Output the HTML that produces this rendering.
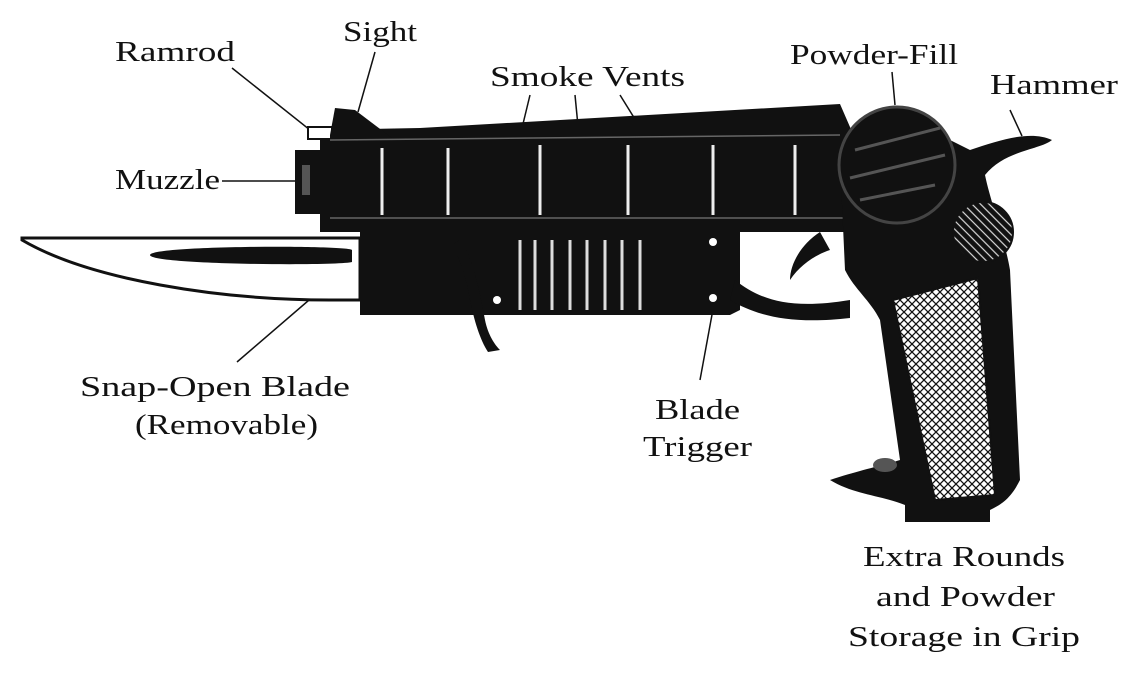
<!DOCTYPE html>
<html><head><meta charset="utf-8"><style>
html,body{margin:0;padding:0;background:#fff}
svg{display:block}
text{font-family:"Liberation Serif",serif;font-size:28px;fill:#111}
</style></head><body>
<svg width="1132" height="674" viewBox="0 0 1132 674" xmlns="http://www.w3.org/2000/svg">
<defs>
<pattern id="hatch" width="8" height="8" patternUnits="userSpaceOnUse">
<rect width="8" height="8" fill="#fff"/>
<path d="M0,0 L8,8 M8,0 L0,8" stroke="#111" stroke-width="1.3"/>
</pattern>
<pattern id="hatch2" width="6" height="6" patternUnits="userSpaceOnUse" patternTransform="rotate(45)">
<rect width="6" height="6" fill="#111"/>
<path d="M0,3 L6,3" stroke="#ddd" stroke-width="1.2"/>
</pattern>
</defs>

<!-- labels -->
<text x="115" y="61" textLength="120" lengthAdjust="spacingAndGlyphs">Ramrod</text>
<text x="343" y="41" textLength="74" lengthAdjust="spacingAndGlyphs">Sight</text>
<text x="490" y="86" textLength="195" lengthAdjust="spacingAndGlyphs">Smoke Vents</text>
<text x="790" y="64" textLength="168" lengthAdjust="spacingAndGlyphs">Powder-Fill</text>
<text x="990" y="94" textLength="128" lengthAdjust="spacingAndGlyphs">Hammer</text>
<text x="115" y="189" textLength="105" lengthAdjust="spacingAndGlyphs">Muzzle</text>
<text x="80" y="396" textLength="270" lengthAdjust="spacingAndGlyphs">Snap-Open Blade</text>
<text x="135" y="434" textLength="183" lengthAdjust="spacingAndGlyphs">(Removable)</text>
<text x="655" y="419" textLength="85" lengthAdjust="spacingAndGlyphs">Blade</text>
<text x="643" y="456" textLength="109" lengthAdjust="spacingAndGlyphs">Trigger</text>
<text x="863" y="566" textLength="202" lengthAdjust="spacingAndGlyphs">Extra Rounds</text>
<text x="876" y="606" textLength="179" lengthAdjust="spacingAndGlyphs">and Powder</text>
<text x="848" y="646" textLength="232" lengthAdjust="spacingAndGlyphs">Storage in Grip</text>

<!-- leader lines -->
<g stroke="#111" stroke-width="1.5" fill="none">
<line x1="232" y1="68" x2="310" y2="130"/>
<line x1="375" y1="52" x2="358" y2="112"/>
<line x1="222" y1="181" x2="296" y2="181"/>
<line x1="530" y1="95" x2="522" y2="128"/>
<line x1="575" y1="95" x2="578" y2="126"/>
<line x1="620" y1="95" x2="638" y2="124"/>
<line x1="892" y1="72" x2="895" y2="105"/>
<line x1="1010" y1="110" x2="1022" y2="136"/>
<line x1="237" y1="362" x2="330" y2="282"/>
<line x1="700" y1="380" x2="718" y2="282"/>
</g>

<!-- blade -->
<path d="M22,238 L360,238 L360,300 L330,300 C220,300 90,280 22,240 Z" fill="#fff" stroke="#111" stroke-width="3"/>
<path d="M150,255 C150,245 350,245 352,250 L352,262 C340,266 150,265 150,255 Z" fill="#111"/>

<!-- lower body -->
<path d="M360,232 L740,232 L740,310 L730,315 L360,315 Z" fill="#111"/>
<g stroke="#ddd" stroke-width="3">
<line x1="520" y1="240" x2="520" y2="310"/><line x1="535" y1="240" x2="535" y2="310"/>
<line x1="552" y1="240" x2="552" y2="310"/><line x1="570" y1="240" x2="570" y2="310"/>
<line x1="587" y1="240" x2="587" y2="310"/><line x1="605" y1="240" x2="605" y2="310"/>
<line x1="622" y1="240" x2="622" y2="310"/><line x1="640" y1="240" x2="640" y2="310"/>
</g>
<circle cx="497" cy="300" r="4" fill="#fff"/><circle cx="713" cy="242" r="4" fill="#fff"/><circle cx="713" cy="298" r="4" fill="#fff"/>
<path d="M460,240 C470,250 480,290 485,320 C488,335 495,345 500,350 L488,352 C480,340 474,320 470,300 C466,275 458,255 452,245 Z" fill="#111"/>

<!-- barrel -->
<path d="M320,130 L420,128 L840,104 L860,150 L860,232 L320,232 Z" fill="#111"/>
<rect x="295" y="150" width="28" height="64" fill="#111"/>
<rect x="302" y="165" width="8" height="30" fill="#555"/>
<rect x="308" y="127" width="24" height="12" fill="#fff" stroke="#111" stroke-width="2"/>
<path d="M330,135 L335,108 L355,110 L392,138 L392,150 L330,150 Z" fill="#111"/>
<g stroke="#eee" stroke-width="3">
<line x1="382" y1="148" x2="382" y2="215"/><line x1="448" y1="148" x2="448" y2="215"/>
<line x1="540" y1="145" x2="540" y2="215"/><line x1="628" y1="145" x2="628" y2="215"/>
<line x1="713" y1="145" x2="713" y2="215"/><line x1="795" y1="145" x2="795" y2="215"/>
</g>
<line x1="330" y1="140" x2="840" y2="135" stroke="#666" stroke-width="1.5"/>
<line x1="330" y1="218" x2="850" y2="218" stroke="#666" stroke-width="1.5"/>

<!-- trigger guard + trigger -->
<path d="M735,280 C760,300 790,310 850,300 L850,318 C790,325 755,315 730,300 Z" fill="#111"/>
<path d="M820,232 C800,245 790,265 790,280 C800,265 815,255 830,250 Z" fill="#111"/>

<!-- grip -->
<path d="M840,160 L950,140 L970,150 C1000,140 1030,130 1052,140 C1040,150 1005,150 985,175 C990,200 1005,240 1010,270 L1020,480 C1010,500 1000,505 990,510 L990,522 L905,522 L905,505 C880,495 855,495 830,480 C860,470 885,465 900,460 L880,320 C870,300 855,290 845,270 Z" fill="#111"/>
<path d="M893,300 L978,278 L995,495 L935,500 Z" fill="url(#hatch)" stroke="#111" stroke-width="2"/>
<circle cx="897" cy="165" r="58" fill="#111" stroke="#444" stroke-width="3"/>
<path d="M855,150 L940,128 M850,178 L945,155 M860,200 L935,185" stroke="#555" stroke-width="3"/>
<circle cx="983" cy="232" r="30" fill="url(#hatch2)" stroke="#111" stroke-width="2"/>
<ellipse cx="885" cy="465" rx="12" ry="7" fill="#555"/>
</svg>
</body></html>
